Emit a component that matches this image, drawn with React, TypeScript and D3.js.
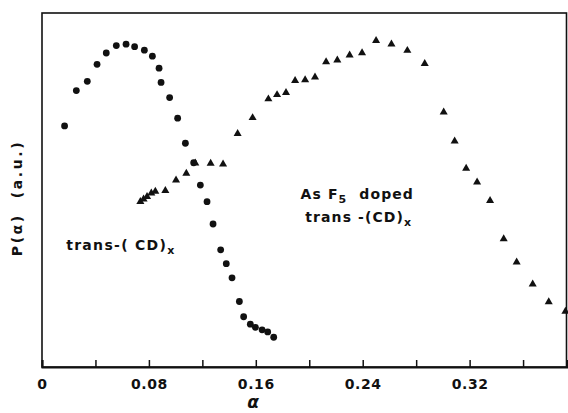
import React, { useEffect, useRef } from 'react';
import * as d3 from 'd3';

// pristine trans-(CD)x  (circles)
const pureAlpha = [0.0169, 0.0257, 0.0339, 0.0412, 0.0481, 0.0556, 0.0629, 0.0693, 0.0766, 0.0826, 0.0876, 0.0891, 0.0955, 0.1015, 0.1073, 0.1135, 0.1185, 0.1235, 0.128, 0.1337, 0.1379, 0.1422, 0.1477, 0.1509, 0.1559, 0.1597, 0.1647, 0.1689, 0.1734];
const pureP = [68.1, 78.1, 80.7, 85.5, 88.7, 90.8, 91.2, 90.5, 89.5, 87.8, 84.4, 80.4, 76.1, 70.3, 63.2, 57.7, 51.4, 46.7, 40.4, 33.1, 29.2, 25.2, 18.5, 14.2, 12.1, 11.2, 10.5, 9.9, 8.4];

// AsF5 doped trans-(CD)x  (triangles)
const dopedAlpha = [0.0736, 0.076, 0.0786, 0.0818, 0.0848, 0.0923, 0.1003, 0.108, 0.1147, 0.1262, 0.1355, 0.1464, 0.1576, 0.1694, 0.1759, 0.1826, 0.1894, 0.1969, 0.2043, 0.2126, 0.221, 0.2302, 0.2395, 0.25, 0.2615, 0.2734, 0.2864, 0.3006, 0.3088, 0.3174, 0.3256, 0.3353, 0.3455, 0.3552, 0.3672, 0.3792, 0.3917];
const dopedP = [46.7, 47.4, 48.1, 49.1, 49.6, 49.8, 52.8, 54.7, 57.6, 57.5, 57.3, 65.9, 70.4, 75.7, 76.9, 77.5, 80.9, 81.1, 81.9, 86.2, 86.7, 88.1, 88.7, 92.2, 91.2, 89.4, 85.7, 72.0, 63.8, 56.1, 52.2, 47.0, 36.2, 29.6, 23.4, 18.4, 15.7];

const xTicks = [0, 0.04, 0.08, 0.12, 0.16, 0.2, 0.24, 0.28, 0.32, 0.36];
const xTickLabels = ['0', '', '0.08', '', '0.16', '', '0.24', '', '0.32', ''];

const font = "'DejaVu Sans', sans-serif";

const App = () => {
  const svgRef = useRef(null);

  useEffect(() => {
    const W = 568;
    const H = 413;
    const margin = { top: 13, right: 1.5, bottom: 46, left: 42 };
    const width = W - margin.left - margin.right;
    const height = H - margin.top - margin.bottom;

    const svg = d3.select(svgRef.current).attr('width', W).attr('height', H);
    svg.selectAll('*').remove();

    const g = svg.append('g').attr('transform', `translate(${margin.left},${margin.top})`);

    const x = d3.scaleLinear().domain([0, 0.3925]).range([0, width]);
    const y = d3.scaleLinear().domain([0, 100]).range([height, 0]);

    // frame
    g.append('rect')
      .attr('width', width)
      .attr('height', height)
      .attr('fill', 'none')
      .attr('stroke', '#111')
      .attr('stroke-width', 1.6);

    // bottom axis, ticks pointing inward
    const xAxis = d3
      .axisBottom(x)
      .tickValues(xTicks)
      .tickSize(-7)
      .tickPadding(12)
      .tickFormat((d, i) => xTickLabels[i]);

    const ax = g.append('g').attr('transform', `translate(0,${height})`).call(xAxis);
    ax.select('.domain').attr('stroke', '#111').attr('stroke-width', 2);
    ax.selectAll('line').attr('stroke', '#111').attr('stroke-width', 1.5);
    ax.selectAll('text')
      .style('font-family', font)
      .style('font-size', '14px')
      .style('font-weight', '600')
      .style('letter-spacing', '0.6px')
      .attr('fill', '#111');

    // circles
    const pure = pureAlpha.map((a, i) => [a, pureP[i]]);
    g.selectAll('circle.pure')
      .data(pure)
      .enter()
      .append('circle')
      .attr('class', 'pure')
      .attr('cx', (d) => x(d[0]))
      .attr('cy', (d) => y(d[1]))
      .attr('r', 3.4)
      .attr('fill', '#111');

    // triangles
    const doped = dopedAlpha.map((a, i) => [a, dopedP[i]]);
    const tri = d3.symbol().type(d3.symbolTriangle).size(28);
    g.selectAll('path.doped')
      .data(doped)
      .enter()
      .append('path')
      .attr('class', 'doped')
      .attr('d', tri)
      .attr('transform', (d) => `translate(${x(d[0])},${y(d[1])})`)
      .attr('fill', '#111');

    // labels
    const lbl = (sel) =>
      sel.style('font-family', font).style('font-weight', '600').attr('fill', '#111');

    const t1 = g.append('text').attr('x', x(0.0181)).attr('y', 237).style('font-size', '14px').style('letter-spacing', '1.3px');
    lbl(t1);
    t1.append('tspan').text('trans-( CD)');
    t1.append('tspan').attr('dy', 4).style('font-size', '11px').text('x');

    const t2 = g.append('text').attr('x', x(0.1935)).attr('y', 186).style('font-size', '14px').style('letter-spacing', '1.1px');
    lbl(t2);
    t2.append('tspan').text('As F');
    t2.append('tspan').attr('dy', 4).style('font-size', '11px').text('5');
    t2.append('tspan').attr('dy', -4).style('white-space', 'pre').text('  doped');

    const t3 = g.append('text').attr('x', x(0.197)).attr('y', 209).style('font-size', '14px').style('letter-spacing', '1.1px');
    lbl(t3);
    t3.append('tspan').text('trans -(CD)');
    t3.append('tspan').attr('dy', 4).style('font-size', '11px').text('x');

    // axis titles
    const yl = svg
      .append('text')
      .attr('transform', `translate(22,${margin.top + 185}) rotate(-90)`)
      .attr('text-anchor', 'middle')
      .style('font-size', '14px')
      .style('letter-spacing', '2.6px')
      .style('white-space', 'pre')
      .text('P(α)  (a.u.)');
    lbl(yl);

    const xl = svg
      .append('text')
      .attr('x', margin.left + x(0.158))
      .attr('y', 408)
      .attr('text-anchor', 'middle')
      .style('font-size', '17px')
      .style('font-style', 'italic')
      .text('α');
    lbl(xl);
  }, []);

  return <svg ref={svgRef} style={{ position: 'absolute', left: 0, top: 0, background: '#fff' }}></svg>;
};

export default App;
